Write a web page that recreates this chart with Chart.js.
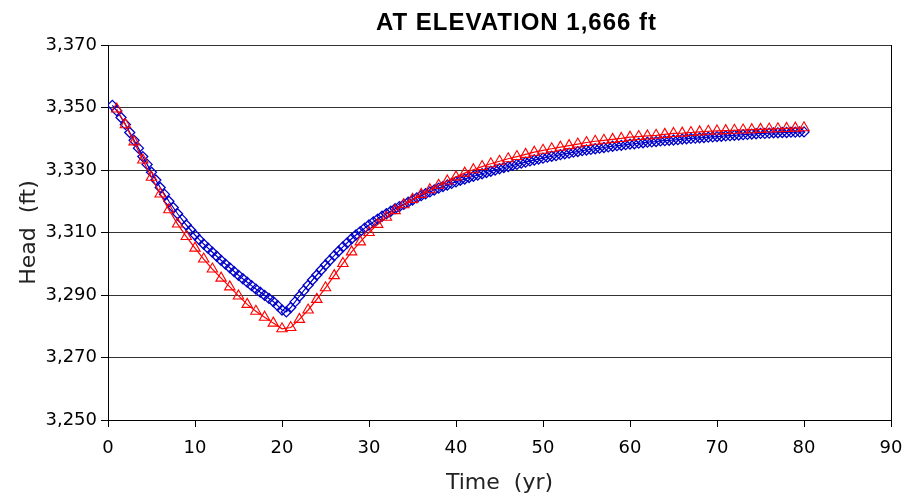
<!DOCTYPE html>
<html>
<head>
<meta charset="utf-8">
<title>Head at elevation 1,666 ft</title>
<script src="https://cdn.jsdelivr.net/npm/chart.js@4.4.1/dist/chart.umd.min.js"></script>
<style>
    html, body { margin: 0; padding: 0; background: #fff; }
    #wrap { width: 909px; height: 500px; position: relative; }
</style>
</head>
<body>
<div id="wrap"><canvas id="grafico_head"></canvas></div>
<script>
const TITULO = 'AT ELEVATION 1,666 ft';

// eixo y / eixo x
const yTicks = [3250, 3270, 3290, 3310, 3330, 3350, 3370];
const xTicks = [0, 10, 20, 30, 40, 50, 60, 70, 80, 90];

// serie vermelha (triangulos), um ponto por ano
const redTime = [1, 2, 3, 4, 5, 6, 7, 8, 9, 10, 11, 12, 13, 14, 15, 16, 17, 18, 19, 20,
    21, 22, 23, 24, 25, 26, 27, 28, 29, 30, 31, 32, 33, 34, 35, 36, 37, 38, 39, 40,
    41, 42, 43, 44, 45, 46, 47, 48, 49, 50, 51, 52, 53, 54, 55, 56, 57, 58, 59, 60,
    61, 62, 63, 64, 65, 66, 67, 68, 69, 70, 71, 72, 73, 74, 75, 76, 77, 78, 79, 80];
const redHead = [3349.5, 3344.5, 3339.0, 3333.2, 3327.7, 3322.3, 3317.3, 3312.7, 3308.7, 3305.0,
    3301.5, 3298.3, 3295.4, 3292.6, 3289.7, 3287.0, 3284.8, 3282.9, 3281.0, 3279.2,
    3279.6, 3282.2, 3285.2, 3288.6, 3292.3, 3296.2, 3300.1, 3303.8, 3307.0, 3310.0,
    3312.6, 3314.9, 3317.0, 3318.9, 3320.6, 3322.2, 3323.7, 3325.1, 3326.5, 3327.8,
    3329.0, 3330.1, 3331.1, 3332.0, 3332.8, 3333.6, 3334.3, 3335.0, 3335.7, 3336.3,
    3336.8, 3337.3, 3337.8, 3338.3, 3338.8, 3339.2, 3339.5, 3339.8, 3340.1, 3340.5,
    3340.7, 3340.9, 3341.1, 3341.4, 3341.7, 3341.8, 3342.0, 3342.2, 3342.4, 3342.5,
    3342.6, 3342.7, 3342.8, 3342.9, 3343.0, 3343.1, 3343.2, 3343.3, 3343.4, 3343.5];

// serie azul (losangos), a cada meio ano
const blueTime = [0.5, 1, 1.5, 2, 2.5, 3, 3.5, 4, 4.5, 5, 5.5, 6, 6.5, 7, 7.5, 8, 8.5, 9, 9.5, 10,
    10.5, 11, 11.5, 12, 12.5, 13, 13.5, 14, 14.5, 15, 15.5, 16, 16.5, 17, 17.5, 18, 18.5, 19, 19.5, 20,
    20.5, 21, 21.5, 22, 22.5, 23, 23.5, 24, 24.5, 25, 25.5, 26, 26.5, 27, 27.5, 28, 28.5, 29, 29.5, 30,
    30.5, 31, 31.5, 32, 32.5, 33, 33.5, 34, 34.5, 35, 35.5, 36, 36.5, 37, 37.5, 38, 38.5, 39, 39.5, 40,
    40.5, 41, 41.5, 42, 42.5, 43, 43.5, 44, 44.5, 45, 45.5, 46, 46.5, 47, 47.5, 48, 48.5, 49, 49.5, 50,
    50.5, 51, 51.5, 52, 52.5, 53, 53.5, 54, 54.5, 55, 55.5, 56, 56.5, 57, 57.5, 58, 58.5, 59, 59.5, 60,
    60.5, 61, 61.5, 62, 62.5, 63, 63.5, 64, 64.5, 65, 65.5, 66, 66.5, 67, 67.5, 68, 68.5, 69, 69.5, 70,
    70.5, 71, 71.5, 72, 72.5, 73, 73.5, 74, 74.5, 75, 75.5, 76, 76.5, 77, 77.5, 78, 78.5, 79, 79.5, 80];
const blueHead = [3350.7, 3349.0, 3346.8, 3344.6, 3342.0, 3339.5, 3337.0, 3334.3, 3331.8, 3329.3,
    3326.8, 3324.4, 3322.2, 3320.0, 3318.0, 3316.0, 3314.2, 3312.4, 3310.8, 3309.2,
    3307.7, 3306.3, 3305.0, 3303.7, 3302.4, 3301.1, 3299.9, 3298.7, 3297.5, 3296.3,
    3295.2, 3294.1, 3293.0, 3291.9, 3290.9, 3289.9, 3288.9, 3287.9, 3286.6, 3285.2,
    3284.6, 3286.0, 3287.8, 3289.6, 3291.4, 3293.1, 3294.8, 3296.4, 3298.0, 3299.6,
    3301.1, 3302.6, 3304.0, 3305.4, 3306.7, 3308.0, 3309.2, 3310.3, 3311.4, 3312.4,
    3313.4, 3314.3, 3315.2, 3316.0, 3316.8, 3317.6, 3318.3, 3319.0, 3319.7, 3320.4,
    3321.1, 3321.8, 3322.4, 3323.0, 3323.6, 3324.2, 3324.7, 3325.2, 3325.7, 3326.2,
    3326.7, 3327.1, 3327.6, 3328.0, 3328.4, 3328.8, 3329.2, 3329.6, 3330.0, 3330.4,
    3330.8, 3331.1, 3331.5, 3331.8, 3332.2, 3332.5, 3332.9, 3333.2, 3333.5, 3333.8,
    3334.1, 3334.4, 3334.6, 3334.9, 3335.2, 3335.4, 3335.7, 3335.9, 3336.2, 3336.4,
    3336.6, 3336.8, 3337.0, 3337.2, 3337.4, 3337.6, 3337.8, 3337.9, 3338.1, 3338.3,
    3338.4, 3338.6, 3338.7, 3338.9, 3339.0, 3339.1, 3339.3, 3339.4, 3339.5, 3339.6,
    3339.7, 3339.9, 3340.0, 3340.1, 3340.2, 3340.3, 3340.4, 3340.5, 3340.6, 3340.7,
    3340.8, 3340.9, 3341.0, 3341.1, 3341.2, 3341.3, 3341.4, 3341.5, 3341.6, 3341.7,
    3341.7, 3341.8, 3341.9, 3341.9, 3342.0, 3342.0, 3342.1, 3342.1, 3342.2, 3342.2];

const FONTE = '"DejaVu Sans", sans-serif';

const tituloPlugin = {
    id: 'tituloPlugin',
    afterDraw(chart) {
        const { ctx, chartArea } = chart;
        ctx.save();
        ctx.font = 'bold 24px "Liberation Sans", Arial, sans-serif';
        ctx.letterSpacing = '1px';
        ctx.fillStyle = '#000';
        ctx.textAlign = 'center';
        ctx.textBaseline = 'middle';
        ctx.fillText(TITULO, (chartArea.left + chartArea.right) / 2 + 17, 23);
        ctx.restore();
    }
};

function inicializarGrafico() {
    const ctx = document.getElementById('grafico_head').getContext('2d');
    new Chart(ctx, {
        type: 'line',
        data: {
            datasets: [{
                label: 'triangles',
                data: redTime.map((t, i) => ({ x: t, y: redHead[i] })),
                borderColor: '#ff0000',
                borderWidth: 1.2,
                pointStyle: 'triangle',
                pointRadius: 6,
                pointBorderColor: '#ff0000',
                pointBackgroundColor: 'rgba(0,0,0,0)',
                pointBorderWidth: 1.1,
                tension: 0,
                order: 0
            }, {
                label: 'diamonds',
                data: blueTime.map((t, i) => ({ x: t, y: blueHead[i] })),
                borderColor: '#0000c8',
                borderWidth: 1.2,
                pointStyle: 'rectRot',
                pointRadius: 5,
                pointBorderColor: '#0000c8',
                pointBackgroundColor: 'rgba(0,0,0,0)',
                pointBorderWidth: 1.3,
                tension: 0,
                order: 1
            }]
        },
        options: {
            responsive: false,
            animation: false,
            layout: { padding: { top: 45, right: 18, left: 0, bottom: 0 } },
            plugins: {
                legend: { display: false },
                tooltip: { enabled: false },
                title: { display: false }
            },
            scales: {
                x: {
                    type: 'linear',
                    min: 0,
                    max: 90,
                    afterBuildTicks: s => { s.ticks = xTicks.map(v => ({ value: v })); },
                    afterFit: s => {
                        s.height = 80;
                        s.paddingLeft = 0;
                        s.paddingRight = 0;
                    },
                    border: { color: '#000', width: 1 },
                    grid: {
                        color: c => (c.tick && c.tick.value === 90) ? '#000' : 'rgba(0,0,0,0)',
                        tickColor: '#000',
                        tickLength: 7,
                        drawOnChartArea: true
                    },
                    ticks: {
                        color: '#000',
                        padding: 11,
                        maxRotation: 0,
                        font: { family: FONTE, size: 18 }
                    },
                    title: {
                        display: true,
                        text: 'Time  (yr)',
                        color: '#222',
                        font: { family: FONTE, size: 22 },
                        padding: { top: 7 }
                    }
                },
                y: {
                    min: 3250,
                    max: 3370,
                    afterBuildTicks: s => { s.ticks = yTicks.map(v => ({ value: v })); },
                    afterFit: s => {
                        s.width = 108;
                        s.paddingTop = 0;
                        s.paddingBottom = 0;
                    },
                    border: { color: '#000', width: 1 },
                    grid: {
                        color: '#333',
                        tickColor: '#000',
                        tickLength: 7,
                        lineWidth: 1
                    },
                    ticks: {
                        color: '#000',
                        padding: 4,
                        font: { family: FONTE, size: 18 },
                        callback: v => v.toLocaleString('en-US')
                    },
                    title: {
                        display: true,
                        text: 'Head  (ft)',
                        color: '#222',
                        font: { family: FONTE, size: 22 },
                        padding: { top: 16, bottom: 0 }
                    }
                }
            }
        },
        plugins: [tituloPlugin]
    });
}

document.getElementById('grafico_head').width = 909;
document.getElementById('grafico_head').height = 500;
inicializarGrafico();
</script>
</body>
</html>
